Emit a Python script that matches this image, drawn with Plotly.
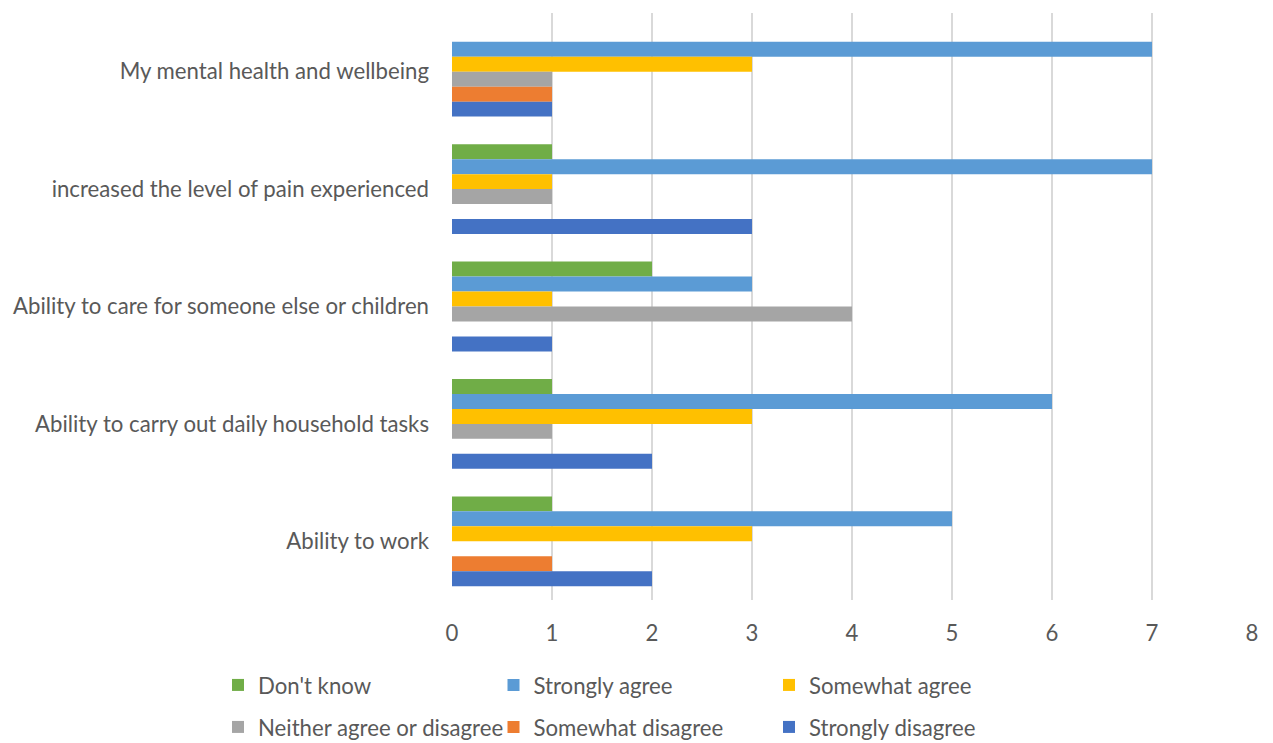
import plotly.graph_objects as go

categories = [
    "My mental health and wellbeing",
    "increased the level of pain experienced",
    "Ability to care for someone else or children",
    "Ability to carry out daily household tasks",
    "Ability to work",
]
series_names = ["Don't know", "Strongly agree", "Somewhat agree",
                "Neither agree or disagree", "Somewhat disagree", "Strongly disagree"]
dont_know = [0, 1, 2, 1, 1]
strongly_agree = [7, 7, 3, 6, 5]
somewhat_agree = [3, 1, 1, 3, 3]
neither = [1, 1, 4, 1, 0]
somewhat_disagree = [1, 0, 0, 0, 1]
strongly_disagree = [1, 3, 1, 2, 2]
x_ticks = [0, 1, 2, 3, 4, 5, 6, 7, 8]

series_values = [dont_know, strongly_agree, somewhat_agree, neither,
                 somewhat_disagree, strongly_disagree]
colors = ["#70AD47", "#5B9BD5", "#FFC000", "#A5A5A5", "#ED7D31", "#4472C4"]

FONT = "Lato"
TXT = "#595959"
W, H = 1273, 743
FS = 22.2

fig = go.Figure()
legend_layout = {}
for i, (name, vals, col) in enumerate(zip(series_names, series_values, colors)):
    lid = "legend" if i == 0 else f"legend{i + 1}"
    row, colidx = divmod(i, 3)
    fig.add_trace(go.Bar(
        y=categories, x=vals, name=name, orientation="h",
        marker=dict(color=col, line=dict(width=0)), legend=lid,
        showlegend=True,
    ))
    legend_layout[lid] = dict(
        orientation="h", xref="container", yref="container",
        x=(218 + 275.5 * colidx) / W, xanchor="left",
        y=1 - (685 + 42 * row) / H, yanchor="middle",
        font=dict(family=FONT, size=FS, color=TXT),
        bgcolor="rgba(0,0,0,0)",
    )

fig.update_layout(
    width=W, height=H,
    showlegend=True,
    margin=dict(l=452, r=21, t=13, b=143, autoexpand=False),
    paper_bgcolor="white", plot_bgcolor="white",
    barmode="group", bargap=0.235, bargroupgap=0,
    font=dict(family=FONT, size=FS, color=TXT),
    xaxis=dict(
        range=[0, 8], tickvals=x_ticks, showgrid=True, gridcolor="#D9D9D9",
        gridwidth=1.5, zeroline=False, showline=False, ticks="",
        tickfont=dict(family=FONT, size=FS, color=TXT), ticklabelstandoff=18,
        automargin=False,
    ),
    yaxis=dict(
        autorange="reversed", showgrid=False, zeroline=False, showline=False,
        ticks="", tickfont=dict(family=FONT, size=FS, color=TXT),
        ticklabelstandoff=22, automargin=False,
    ),
    **legend_layout,
)

fig.write_html("out.html")
